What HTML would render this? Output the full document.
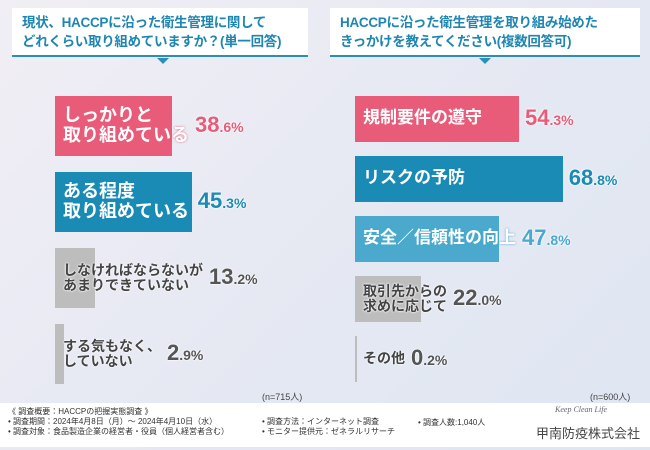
<!DOCTYPE html>
<html><head><meta charset="utf-8"><style>
body{margin:0;width:650px;height:450px;overflow:hidden;font-family:"Liberation Sans","Noto Sans CJK JP",sans-serif;background:linear-gradient(135deg,#f1eef5,#e4e8f2 60%,#dfe6f2);position:relative}
.t{position:absolute;background:#fff;border-bottom:2px solid #2a8fb8;color:#1f86b2;font-weight:bold;font-size:13.5px;line-height:19px;padding:5px 10px;box-sizing:border-box;white-space:nowrap;letter-spacing:-0.3px;height:49px}
.tri{position:absolute;width:0;height:0;border-left:6px solid transparent;border-right:6px solid transparent;border-top:6px solid #2a8fb8}
.bar{position:absolute}
.lab{position:absolute;font-weight:bold;white-space:nowrap}
.pct{position:absolute;font-weight:bold;font-size:22px;white-space:nowrap;text-shadow:0 0 2px #fff,0 0 2px #fff}
.pct small{font-size:14px}
.n{position:absolute;font-size:9px;color:#444}
.foot{position:absolute;left:0;top:403px;width:650px;height:44px;background:#fff;font-size:8px;color:#333}
</style></head><body>
<div class="t" style="left:12px;top:8px;width:296px">現状、HACCPに沿った衛生管理に関して<br>どれくらい取り組めていますか？(単一回答)</div>
<div class="tri" style="left:157px;top:58px"></div>
<div class="t" style="left:330px;top:8px;width:310px">HACCPに沿った衛生管理を取り組み始めた<br>きっかけを教えてください(複数回答可)</div>
<div class="tri" style="left:479px;top:58px"></div>
<div id="charts"></div>
<div class="n" style="left:262px;top:390px">(n=715人)</div>
<div class="n" style="left:590px;top:390px">(n=600人)</div>
<div class="foot">
<div style="position:absolute;left:8px;top:4px;line-height:10px">《 調査概要：HACCPの把握実態調査 》<br>• 調査期間：2024年4月8日（月）～ 2024年4月10日（水）<br>• 調査対象：食品製造企業の経営者・役員（個人経営者含む）</div>
<div style="position:absolute;left:262px;top:14px;line-height:10px">• 調査方法：インターネット調査<br>• モニター提供元：ゼネラルリサーチ</div>
<div style="position:absolute;left:418px;top:14px">• 調査人数:1,040人</div>
<div style="position:absolute;left:555px;top:2px;font-style:italic;font-family:'Liberation Serif',serif;color:#666">Keep Clean Life</div>
<div style="position:absolute;left:536px;top:20px;font-size:13px;color:#444">甲南防疫株式会社</div>
</div>
<script>
const leftLabels=["しっかりと<br>取り組めている","ある程度<br>取り組めている","しなければならないが<br>あまりできていない","する気もなく、<br>していない"];
const leftValues=[38.6,45.3,13.2,2.9];
const rightLabels=["規制要件の遵守","リスクの予防","安全／信頼性の向上","取引先からの<br>求めに応じて","その他"];
const rightValues=[54.3,68.8,47.8,22.0,0.2];
const scale=3.02;
function x(v){return v*scale;}
const c=document.getElementById('charts');
function draw(labels,vals,x0,y0,h,step,colors,textCols,sizes,prefix){
 vals.forEach((v,i)=>{
  const y=y0+i*step;
  const b=document.createElement('div');b.className='bar';
  
  
  const bw=Math.max(x(v),2);
  b.style.cssText=`left:${x0}px;top:${y}px;width:${bw}px;height:${h}px;background:${colors[i]}`;
  c.appendChild(b);
  const l=document.createElement('div');l.className='lab';
  
  
  const two=labels[i].includes('<br>');
  l.style.cssText=`left:${x0+8}px;top:${y+h/2-(two?sizes[i]*1.1:sizes[i]*0.6)}px;font-size:${sizes[i]}px;line-height:${sizes[i]*1.1}px;color:${textCols[i]};`+(textCols[i]=='#fff'?`text-shadow:0 0 2px ${colors[i]}`:'text-shadow:0 0 2px #fff,0 0 2px #fff');
  l.innerHTML=labels[i];c.appendChild(l);
  const w=l.getBoundingClientRect().width;
  const px=Math.max(x0+8+w,textCols[i]=='#fff'?x0+bw:0)+6;
  const p=document.createElement('div');p.className='pct';
  
  
  const s=v.toFixed(1).split('.');
  p.innerHTML=`${s[0]}<small>.${s[1]}%</small>`;
  p.style.cssText+=`left:${px}px;top:${y+h/2-14}px;color:${textCols[i]=='#fff'?colors[i]:'#555'}`;
  c.appendChild(p);
 });
}
draw(leftLabels,leftValues,55,96,60,76,['#e85c7a','#1a8bb5','#bdbdbd','#bdbdbd'],['#fff','#fff','#444','#444'],[18,18,14,14],'left');
draw(rightLabels,rightValues,355,96,46,60,['#e85c7a','#1a8bb5','#4aa9cc','#bdbdbd','#bdbdbd'],['#fff','#fff','#fff','#444','#444'],[17,17,17,14,14],'right');
</script>
</body></html>
